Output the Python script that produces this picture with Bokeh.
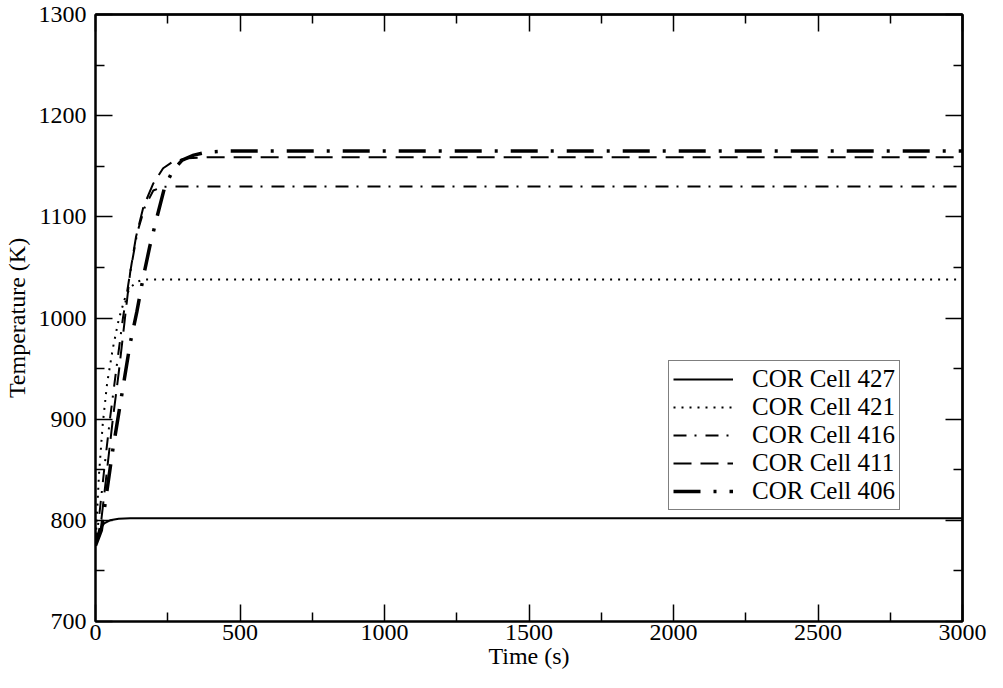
from bokeh.plotting import figure
from bokeh.models import (Range1d, LinearAxis, FixedTicker, Legend, LegendItem)
from bokeh.embed import file_html
from bokeh.resources import INLINE

# ---- data (time in s, temperature in K) ----
t_427 = [0, 10, 20, 30, 50, 80, 120, 3000]
T_427 = [775, 786, 793, 797, 800, 801.5, 802, 802]

t_421 = [0, 5, 12, 25, 40, 60, 80, 100, 120, 145, 170, 3000]
T_421 = [775, 805, 845, 895, 935, 970, 998, 1018, 1030, 1036, 1038, 1038]

t_416 = [0, 15, 30, 50, 70, 95, 120, 145, 171, 200, 230, 260, 3000]
T_416 = [775, 810, 850, 900, 945, 1000, 1045, 1085, 1110, 1126, 1129.5, 1130, 1130]

t_411 = [0, 20, 40, 60, 80, 100, 120, 140, 166, 200, 234, 270, 320, 400, 3000]
T_411 = [775, 800, 850, 900, 945, 995, 1045, 1080, 1110, 1133, 1148, 1155, 1158, 1159, 1159]

t_406 = [0, 20, 40, 60, 80, 100, 120, 143, 165, 188, 213, 239, 268, 300, 340, 387, 450, 3000]
T_406 = [775, 790, 830, 870, 905, 940, 975, 1006, 1040, 1071, 1100, 1129, 1146, 1156, 1161, 1164, 1165, 1165]

labels = ["COR Cell 427", "COR Cell 421", "COR Cell 416", "COR Cell 411", "COR Cell 406"]

# tick positions (mirror ticks on top / right)
x_major = [0, 500, 1000, 1500, 2000, 2500, 3000]
x_minor = [250, 750, 1250, 1750, 2250, 2750]
y_major = [700, 800, 900, 1000, 1100, 1200, 1300]
y_minor = [750, 850, 950, 1050, 1150, 1250]

FONT = "Liberation Serif"

p = figure(width=987, height=672, output_backend="svg", toolbar_location=None,
           x_range=Range1d(0, 3000), y_range=Range1d(700, 1300),
           min_border_left=95, min_border_right=25, min_border_top=14, min_border_bottom=51,
           x_axis_label="Time (s)", y_axis_label="Temperature (K)")
p.xgrid.visible = False
p.ygrid.visible = False
p.outline_line_color = "black"
p.outline_line_width = 2
p.background_fill_color = "white"
p.border_fill_color = "white"

def style_axis(ax):
    ax.axis_line_color = "black"
    ax.axis_line_width = 2
    ax.major_tick_in = 17
    ax.major_tick_out = 0
    ax.minor_tick_in = 9
    ax.minor_tick_out = 0
    ax.major_tick_line_color = "black"
    ax.minor_tick_line_color = "black"
    ax.major_tick_line_width = 1.5
    ax.minor_tick_line_width = 1.5
    ax.major_label_text_font = FONT
    ax.major_label_text_font_size = "24px"
    ax.major_label_text_color = "black"
    ax.axis_label_text_font = FONT
    ax.axis_label_text_font_size = "24px"
    ax.axis_label_text_font_style = "normal"
    ax.axis_label_text_color = "black"

p.xaxis.ticker = FixedTicker(ticks=x_major, minor_ticks=x_minor)
p.yaxis.ticker = FixedTicker(ticks=y_major, minor_ticks=y_minor)
style_axis(p.xaxis[0])
style_axis(p.yaxis[0])
p.xaxis.major_label_standoff = 3
p.xaxis.axis_label_standoff = 0
p.yaxis.major_label_standoff = 9
p.yaxis.axis_label_standoff = 6

# mirror axes: only "minor" ticks (no labels); one axis for long ticks, one for short ones
def mirror(minor_positions, length):
    ax = LinearAxis(ticker=FixedTicker(ticks=[], minor_ticks=minor_positions))
    style_axis(ax)
    ax.minor_tick_in = length
    ax.major_label_standoff = 0
    ax.axis_label_standoff = 0
    return ax

p.add_layout(mirror(x_major, 17), "above")
p.add_layout(mirror(x_minor, 9), "above")
p.add_layout(mirror(y_major, 17), "right")
p.add_layout(mirror(y_minor, 9), "right")

r427 = p.line(t_427, T_427, line_color="black", line_width=2)
r421 = p.line(t_421, T_421, line_color="black", line_width=2, line_dash="2 6")
r416 = p.line(t_416, T_416, line_color="black", line_width=2, line_dash="13 8 2 9")
r411 = p.line(t_411, T_411, line_color="black", line_width=2, line_dash="18 9")
r406 = p.line(t_406, T_406, line_color="black", line_width=3.5, line_dash="27 13 3 13")

legend = Legend(items=[LegendItem(label=l, renderers=[r]) for l, r in
                       zip(labels, [r427, r421, r416, r411, r406])],
                location=(573, 111))
legend.label_text_font = FONT
legend.label_text_font_size = "25px"
legend.label_text_color = "black"
legend.label_text_line_height = 1.0
legend.glyph_width = 60
legend.glyph_height = 26
legend.label_height = 26
legend.label_standoff = 19
legend.spacing = 0
legend.padding = 4
legend.margin = 0
legend.border_line_color = "black"
legend.border_line_width = 1.5
legend.background_fill_alpha = 1
p.add_layout(legend)

open("out.html", "w").write(file_html(p, INLINE))
